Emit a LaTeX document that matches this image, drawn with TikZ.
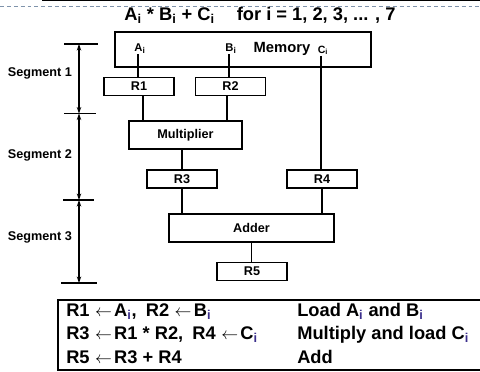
\documentclass[tikz,border=0pt]{standalone}
\usepackage{fontspec}
\setmainfont{Liberation Sans}
\usetikzlibrary{arrows.meta,positioning,calc}
\definecolor{Ink}{HTML}{000000}
\definecolor{Frame}{HTML}{7F93AB}
\definecolor{SubTint}{HTML}{3B2F8C}
\newcommand{\ix}{\textsubscript{i}}
\newcommand{\tix}{\textsubscript{\textcolor{SubTint}{i}}}
\newcommand{\loadarrow}{\hspace{.3em}$\leftarrow$\hspace{.12em}}
\tikzset{
  unit/.style={draw=Ink,line width=1.05pt,inner sep=0pt,align=center,font=\bfseries\fontsize{9}{10}\selectfont},
  reg/.style={unit,minimum width=1.75cm,minimum height=.44cm},
  port/.style={inner sep=.5pt,anchor=base,font=\bfseries\fontsize{8}{9}\selectfont},
  wire/.style={draw=Ink,line width=1.05pt},
  seglabel/.style={font=\bfseries\fontsize{9}{10}\selectfont},
  span/.style={{Stealth[length=1.6mm,width=1.1mm]}-{Stealth[length=1.6mm,width=1.1mm]},draw=Ink,line width=1.1pt},
  segtick/.style={draw=Ink,line width=1.2pt},
  rowtext/.style={anchor=base west,inner sep=0pt,font=\bfseries\fontsize{13}{15}\selectfont}
}
\begin{document}
\begin{tikzpicture}[x=.025cm,y=-.025cm]
        \useasboundingbox (0,0) rectangle (480,371);
        \clip (0,0) rectangle (480,371);
        % slide frame
        \draw[Ink,line width=1pt] (42,.7) -- (480,.7);
        \draw[Frame,line width=.7pt,dash pattern=on 2.8pt off 2.1pt] (0,6.5) -- (480,6.5);
        \node[anchor=base,inner sep=0pt,font=\bfseries\fontsize{13}{15}\selectfont] (title) at (260,20.5) {A\ix{} * B\ix{} + C\ix\hspace{1.2em}for i = 1, 2, 3, ... , 7};
        % units
        \node[unit,line width=1.2pt,minimum width=6.4cm,minimum height=.875cm] (mem) at (243,49.5) {};
        \node[port] (ai) at (140,51) {A\ix};
        \node[port] (bi) at (231,51) {B\ix};
        \node[port,font=\bfseries\fontsize{10.5}{12}\selectfont] (memtxt) at (282,52) {Memory};
        \node[port,font=\bfseries\fontsize{7.5}{8}\selectfont] (ci) at (323,53) {C\ix};
        \node[reg] (r1) at (139,86.5) {R1};
        \node[reg] (r2) at (230.5,86.5) {R2};
        \node[unit,minimum width=2.825cm,minimum height=.7cm] (mult) at (185.5,135) {Multiplier};
        \node[reg] (r3) at (182,179) {R3};
        \node[reg] (r4) at (322,179) {R4};
        \node[unit,minimum width=4.125cm,minimum height=.7cm] (adder) at (251.5,228) {Adder};
        \node[reg] (r5) at (252,271.5) {R5};
        % data paths
        \draw[wire] ([xshift=-1.5]ai.south) -- ([xshift=-1.5]ai.south |- r1.north);
        \draw[wire] ([xshift=-1.5]bi.south) -- ([xshift=-1.5]bi.south |- r2.north);
        \draw[wire] ([xshift=-1.5]ci.south) -- ([xshift=-1.5]ci.south |- r4.north);
        \draw[wire] ([xshift=3]r1.south) -- ([xshift=3]r1.south |- mult.north);
        \draw[wire] ([xshift=-2.5]r2.south) -- ([xshift=-2.5]r2.south |- mult.north);
        \draw[wire] (r3.north |- mult.south) -- (r3.north);
        \draw[wire] (r3.south) -- (r3.south |- adder.north);
        \draw[wire] (r4.south) -- (r4.south |- adder.north);
        \draw[wire] (adder.south) -- (adder.south |- r5.north);
        % segments
        \coordinate (t0) at (79,44);
        \coordinate (t1) at (79,113.5);
        \coordinate (t2) at (79,200);
        \coordinate (t3) at (79,283);
        \draw[segtick] ($(t0)+(-15,0)$) -- ($(t0)+(19,0)$);
        \draw[segtick] ($(t1)+(-15,0)$) -- ($(t1)+(17,0)$);
        \draw[segtick] ($(t2)+(-16,0)$) -- ($(t2)+(15,0)$);
        \draw[segtick] ($(t3)+(-18,0)$) -- ($(t3)+(18,0)$);
        \draw[span] (t0) -- (t1);
        \draw[span] (t1) -- (t2);
        \draw[span] (t2) -- (t3);
        \node[seglabel] (s1) at (40,73) {Segment 1};
        \node[seglabel] (s2) at (40,155) {Segment 2};
        \node[seglabel] (s3) at (40,237) {Segment 3};
        % register transfers
        \node[draw=Ink,line width=1.4pt,anchor=north west,minimum width=10.9cm,minimum height=1.75cm,inner sep=0pt] (tab) at (57,299) {};
        \node[rowtext] (op1) at (66,316) {R1\loadarrow A\tix,\hspace{.5em}R2\loadarrow B\tix};
        \node[rowtext] (op2) at (66,339.5) {R3\loadarrow R1 * R2,\hspace{.5em}R4\loadarrow C\tix};
        \node[rowtext] (op3) at (66,363) {R5\loadarrow R3 + R4};
        \node[rowtext] (do1) at (297,316) {Load A\tix{} and B\tix};
        \node[rowtext] (do2) at (297,339.5) {Multiply and load C\tix};
        \node[rowtext] (do3) at (297,363) {Add};
      \end{tikzpicture}
\end{document}
